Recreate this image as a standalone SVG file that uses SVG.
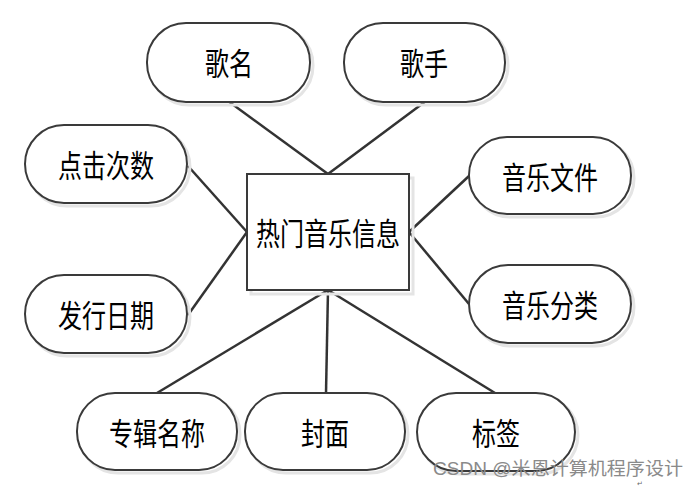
<svg xmlns="http://www.w3.org/2000/svg" width="699" height="489" viewBox="0 0 699 489">
<style>
.sh{fill:none;stroke:#e4e4e4;stroke-width:3}
.nd{fill:#fff;stroke:#3a3a3a;stroke-width:2}
.lb{font-family:"Noto Sans CJK SC","Noto Sans",sans-serif;font-size:24px;fill:#000;text-anchor:middle;dominant-baseline:central}
.ln{stroke:#333;stroke-width:2.5;fill:none}
.wm{font-family:"Liberation Sans","Noto Sans CJK SC",sans-serif;font-size:18px;fill:#8a8a8a}
</style>
<rect width="699" height="489" fill="#fff"/>
<g id="connectors">
<line class="ln" x1="228" y1="101" x2="328" y2="174"/>
<line class="ln" x1="426" y1="101" x2="328" y2="174"/>
<line class="ln" x1="188" y1="166" x2="247" y2="232"/>
<line class="ln" x1="188" y1="315" x2="247" y2="232"/>
<line class="ln" x1="469" y1="176" x2="409" y2="232"/>
<line class="ln" x1="469" y1="304" x2="409" y2="232"/>
<line class="ln" x1="157" y1="393" x2="328" y2="290"/>
<line class="ln" x1="326" y1="393" x2="328" y2="290"/>
<line class="ln" x1="495" y1="393" x2="328" y2="290"/>
</g>
<g id="center">
<rect class="sh" x="251" y="178" width="162" height="116"/>
<rect class="nd" x="247" y="174" width="162" height="116"/>
<g transform="translate(328,232) scale(1,1.28)"><text class="lb" x="0" y="0">热门音乐信息</text></g>
</g>
<g id="n1">
<rect class="sh" x="150" y="26" width="163" height="79" rx="39"/>
<rect class="nd" x="147" y="23" width="163" height="79" rx="39"/>
<g transform="translate(229,62) scale(1,1.28)"><text class="lb">歌名</text></g>
</g>
<g id="n2">
<rect class="sh" x="347" y="26" width="161" height="79" rx="39"/>
<rect class="nd" x="344" y="23" width="161" height="79" rx="39"/>
<g transform="translate(424,62) scale(1,1.28)"><text class="lb">歌手</text></g>
</g>
<g id="n3">
<rect class="sh" x="28" y="128" width="162" height="78" rx="39"/>
<rect class="nd" x="25" y="125" width="162" height="78" rx="39"/>
<g transform="translate(106,164) scale(1,1.28)"><text class="lb">点击次数</text></g>
</g>
<g id="n4">
<rect class="sh" x="28" y="278" width="162" height="78" rx="39"/>
<rect class="nd" x="25" y="275" width="162" height="78" rx="39"/>
<g transform="translate(106,314) scale(1,1.28)"><text class="lb">发行日期</text></g>
</g>
<g id="n5">
<rect class="sh" x="472" y="140" width="162" height="77" rx="38"/>
<rect class="nd" x="469" y="137" width="162" height="77" rx="38"/>
<g transform="translate(550,176) scale(1,1.28)"><text class="lb">音乐文件</text></g>
</g>
<g id="n6">
<rect class="sh" x="472" y="268" width="162" height="78" rx="39"/>
<rect class="nd" x="469" y="265" width="162" height="78" rx="39"/>
<g transform="translate(550,304) scale(1,1.28)"><text class="lb">音乐分类</text></g>
</g>
<g id="n7">
<rect class="sh" x="80" y="396" width="160" height="77" rx="38"/>
<rect class="nd" x="77" y="393" width="160" height="77" rx="38"/>
<g transform="translate(157,432) scale(1,1.28)"><text class="lb">专辑名称</text></g>
</g>
<g id="n8">
<rect class="sh" x="248" y="396" width="160" height="77" rx="38"/>
<rect class="nd" x="245" y="393" width="160" height="77" rx="38"/>
<g transform="translate(325,432) scale(1,1.28)"><text class="lb">封面</text></g>
</g>
<g id="n9">
<rect class="sh" x="420" y="396" width="158" height="78" rx="39"/>
<rect class="nd" x="417" y="393" width="158" height="78" rx="39"/>
<g transform="translate(496,432) scale(1,1.28)"><text class="lb">标签</text></g>
</g>
<text class="wm" x="433" y="475" textLength="250" lengthAdjust="spacingAndGlyphs">CSDN @米恩计算机程序设计</text>
<text x="637" y="486" font-family="DejaVu Sans,sans-serif" font-size="7" fill="#666">↵</text>
</svg>
